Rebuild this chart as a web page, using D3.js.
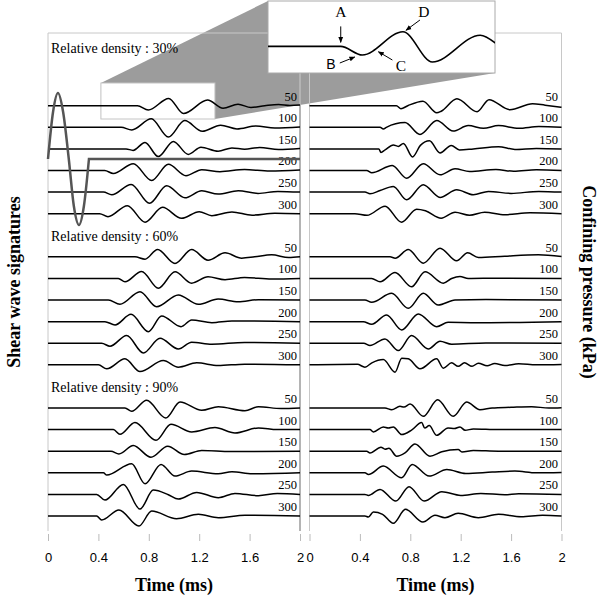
<!DOCTYPE html>
<html>
<head>
<meta charset="utf-8">
<script src="https://d3js.org/d3.v7.min.js"></script>
<style>
  body { margin: 0; background: #fff; }
</style>
</head>
<body>
<div id="chart"></div>
<script>
var pressures = [50, 100, 150, 200, 250, 300];
var densities = ["30%", "60%", "90%"];
var timeTicks = [0, 0.4, 0.8, 1.2, 1.6, 2];

// each trace: [time (ms), relative amplitude], one trace per confining pressure
var left30 = [
  [[0,0],[0.71,0],[0.796,-4.3],[0.958,7.3],[1.075,-7.8],[1.266,5.6],[1.389,-2.5],[1.508,1.5],[1.611,-1.8],[1.72,0],[1.83,1.3],[1.92,0.3],[2,0.7]],
  [[0,0],[0.58,0],[0.665,-2.6],[0.82,8.5],[0.955,-9.8],[1.085,6.7],[1.225,-4],[1.37,2.1],[1.5,-1.6],[1.65,1.3],[1.8,-0.7],[2,0.3]],
  [[0,0],[0.62,0],[0.675,-1.5],[0.77,6.5],[0.875,-7.7],[0.995,7.5],[1.113,-5.5],[1.214,1.7],[1.35,-2.3],[1.46,1],[1.56,-0.3],[1.68,1.5],[1.83,-0.7],[2,0.3]],
  [[0,0],[0.45,0],[0.518,-3],[0.677,6.8],[0.823,-10],[0.955,6.2],[1.095,-5.2],[1.22,0.8],[1.365,-1.2],[1.56,1],[1.76,-0.6],[2,0.5]],
  [[0,0],[0.44,0],[0.506,-2.7],[0.66,7.6],[0.806,-11.2],[0.942,6.3],[1.087,-5.7],[1.22,1.3],[1.35,-2],[1.51,1.3],[1.667,-1.3],[1.825,0.7],[2,0]],
  [[0,0],[0.41,0],[0.476,-3],[0.63,8],[0.77,-8.5],[0.909,6.3],[1.06,-4.7],[1.2,2],[1.3,-2],[1.46,1.7],[1.62,-1.5],[1.8,0.5],[2,0]]
];
var left60 = [
  [[0,0],[0.69,0],[0.77,-2.3],[0.87,7.3],[1.008,-6.7],[1.14,7.3],[1.27,-3.3],[1.405,4],[1.537,-1.3],[1.64,0],[1.775,2],[1.91,-0.7],[2,0]],
  [[0,0],[0.558,0],[0.611,-3.3],[0.743,7],[0.876,-9.7],[1.008,6.7],[1.14,-4.7],[1.27,1.7],[1.405,-1.3],[1.56,1],[1.775,-0.6],[2,0]],
  [[0,0],[0.479,0],[0.571,-4.3],[0.73,8.3],[0.862,-6.7],[1.034,5],[1.193,-4.3],[1.35,1],[1.51,-1.7],[1.67,0.3],[2,0]],
  [[0,0],[0.452,0],[0.532,-3.3],[0.659,7.3],[0.796,-10],[0.902,5.7],[1.056,-5],[1.14,1.7],[1.3,-1],[1.46,0.7],[2,0]],
  [[0,0],[0.426,0],[0.492,-3],[0.624,7.7],[0.757,-9.7],[0.889,5],[1.034,-5.7],[1.14,1],[1.3,-1],[1.56,0.8],[2,0]],
  [[0,0],[0.4,0],[0.466,-4],[0.611,6],[0.73,-6.7],[0.915,4.3],[1.034,-2.3],[1.18,2],[1.35,-0.7],[1.56,0.7],[2,0]]
];
var left90 = [
  [[0,0],[0.611,0],[0.664,-3.3],[0.783,7.7],[0.934,-10],[1.048,6],[1.22,-2.3],[1.352,1.3],[1.563,-2.7],[1.67,1.3],[1.85,-0.5],[2,0]],
  [[0,0],[0.519,0],[0.571,-4.7],[0.69,7],[0.857,-10.7],[0.976,5.3],[1.14,-2.3],[1.325,2],[1.484,-3.3],[1.67,1.7],[1.82,0],[2,0]],
  [[0,0],[0.5,0],[0.563,-2.7],[0.677,5.7],[0.817,-6],[0.95,5],[1.082,-3.3],[1.22,0.7],[1.45,-0.3],[2,0]],
  [[0,0],[0.44,0],[0.466,-2.3],[0.664,9],[0.77,-11],[0.897,8.3],[1.008,-3.3],[1.14,1.7],[1.35,-1],[1.46,1],[1.62,-1],[2,0]],
  [[0,0],[0.386,0],[0.452,-5.7],[0.598,10],[0.73,-14.7],[0.836,4.3],[0.955,-0.3],[1.034,-4.7],[1.18,2],[1.352,-3.3],[1.484,1],[1.67,-1.3],[1.82,1],[2,0]],
  [[0,0],[0.386,0],[0.426,-4],[0.563,6],[0.722,-10],[0.823,5],[1.02,-2.7],[1.193,1.7],[1.352,-1.7],[1.563,0.7],[2,0]]
];
var right30 = [
  [[0,0],[0.69,0],[0.726,-3],[0.78,0],[0.9,4.5],[1.01,-7],[1.045,-5.5],[1.17,7],[1.33,-6],[1.425,6],[1.59,-4],[1.77,2],[1.87,0.5],[2,-1.5]],
  [[0,0],[0.56,0],[0.586,-1.7],[0.61,0],[0.758,4.7],[0.877,-7.2],[1.01,6.8],[1.14,-3.8],[1.26,1.7],[1.38,-1],[1.5,1.7],[1.66,-1],[1.82,0.7],[2,0]],
  [[0,0],[0.55,0],[0.567,-3.5],[0.6,-1],[0.665,4],[0.705,2.5],[0.745,5.5],[0.818,-8],[0.88,3.5],[0.952,8.2],[1.036,-4],[1.125,3.5],[1.19,-1],[1.3,0],[1.5,2.2],[1.63,-0.5],[1.8,0.5],[2,0]],
  [[0,0],[0.454,0],[0.494,-2.3],[0.657,5],[0.771,-7.7],[0.903,6.7],[1.036,-4.3],[1.155,1.7],[1.27,-1],[1.48,1],[1.62,-0.8],[1.8,0.7],[2,0]],
  [[0,0],[0.44,0],[0.48,-1.7],[0.56,1.5],[0.665,5.7],[0.771,-7.7],[0.903,7.3],[1.036,-5.3],[1.168,2.3],[1.3,-2.7],[1.42,0.7],[1.6,-1.3],[1.82,0.7],[2,0]],
  [[0,0],[0.36,0],[0.456,-1.7],[0.6,7.5],[0.73,-8.5],[0.85,4.5],[0.92,3],[1.045,-4.5],[1.155,1.5],[1.27,-1.5],[1.39,1.5],[1.55,-1],[1.75,1],[2,0]]
];
var right60 = [
  [[0,0],[0.639,0],[0.68,-1.3],[0.784,7.3],[0.903,-6.3],[1.036,8.7],[1.168,-4],[1.255,4],[1.34,-0.7],[1.55,0.7],[1.816,2],[2,0.3]],
  [[0,0],[0.493,0],[0.56,-3.3],[0.679,6],[0.81,-8.3],[0.917,6.7],[1.062,-4.7],[1.128,0],[1.194,2],[1.26,0],[1.5,0.3],[2,0]],
  [[0,0],[0.44,0],[0.493,-2.3],[0.652,6.7],[0.784,-8.3],[0.903,6.7],[1.022,-5],[1.155,0],[1.4,0.5],[2,0]],
  [[0,0],[0.427,0],[0.493,-2.7],[0.612,6.7],[0.731,-8.3],[0.864,7.7],[1.009,-5],[1.1,-0.7],[1.3,-1],[2,0]],
  [[0,0],[0.43,0],[0.48,-2.3],[0.599,4.3],[0.705,-7.3],[0.81,7.7],[0.943,-5.7],[1.036,2],[1.128,-1],[1.4,0.3],[2,0]],
  [[0,0],[0.38,0.5],[0.44,-2.3],[0.495,2],[0.586,5.3],[0.679,-7.3],[0.732,6.7],[0.784,6],[0.877,-4],[1.009,6],[1.062,-3.3],[1.128,2],[1.18,-1.5],[1.23,2],[1.29,-1.5],[1.34,1.7],[1.41,-1],[1.47,1.3],[1.55,-0.7],[1.66,1],[1.8,0],[2,0.3]]
];
var right90 = [
  [[0,0],[0.599,0],[0.652,-1.7],[0.718,1.7],[0.75,1],[0.798,4],[0.903,-8.3],[1.017,8.3],[1.141,-8.3],[1.247,6],[1.353,-1.7],[1.45,0],[1.6,0.7],[1.763,1.3],[1.9,0],[2,0.3]],
  [[0,0],[0.48,0],[0.507,-2.3],[0.586,2.7],[0.625,1.7],[0.665,2.7],[0.732,-5],[0.81,-0.5],[0.89,7],[0.915,1.5],[0.95,4],[1.009,-5.7],[1.1,1.7],[1.15,1],[1.194,2.7],[1.235,-0.7],[1.3,0.7],[1.5,0],[2,0]],
  [[0,0],[0.454,0],[0.48,-1.7],[0.567,4],[0.6,2],[0.63,3],[0.692,-5],[0.758,-1.7],[0.837,7.3],[0.956,-5],[1.05,-0.5],[1.18,1.7],[1.21,-0.7],[1.3,0.7],[1.5,0],[2,0]],
  [[0,0],[0.44,0],[0.467,-1.7],[0.586,6.7],[0.731,-5],[0.815,8.3],[0.95,-3.3],[1.09,3.3],[1.24,-0.7],[1.45,0.7],[1.63,1.7],[1.8,0],[2,0.3]],
  [[0,0],[0.44,0],[0.467,-1],[0.56,5],[0.685,-6.7],[0.79,7.7],[0.91,-6.7],[1.05,2.7],[1.2,-1],[1.36,1],[1.55,-0.3],[1.66,0.7],[2,0]],
  [[0,0],[0.44,0],[0.467,-1],[0.507,4],[0.58,1.7],[0.665,-7.3],[0.762,6.7],[0.9,-6],[0.996,0.7],[1.075,-1.7],[1.18,2.7],[1.34,-1.7],[1.5,1.7],[1.68,-0.7],[1.85,0.7],[2,0]]
];

// input pulse drawn over the 30% panel
var pulseT = [0, 0.04, 0.079, 0.12, 0.165, 0.205, 0.246, 0.285, 0.325];
var pulseA = [0, 47, 66, 47, 0, -47, -66, -47, 0];

// zoomed part of the 30% / 50 kPa trace
var zoomT = [0.42, 1.325];
var zoomA = [-13.3, 22.7];
var notes = [
  {label: "A", t: 0.71, a: 0},
  {label: "B", t: 0.79, a: -4.3},
  {label: "C", t: 0.86, a: -1.5},
  {label: "D", t: 0.958, a: 7.3}
];

var serif = "'Liberation Serif', 'Times New Roman', serif";
var sans = "'Liberation Sans', Arial, sans-serif";

var width = 600, height = 597;
var svg = d3.select("#chart").append("svg")
  .attr("width", width)
  .attr("height", height);

svg.append("defs").append("marker")
  .attr("id", "head")
  .attr("viewBox", "0 0 10 10")
  .attr("refX", 9).attr("refY", 5)
  .attr("markerWidth", 6).attr("markerHeight", 6)
  .attr("orient", "auto-start-reverse")
  .append("path")
  .attr("d", "M0,1L10,5L0,9z")
  .attr("fill", "#000");

var xLeft = d3.scaleLinear().domain([0, 2]).range([48, 300]);
var xRight = d3.scaleLinear().domain([0, 2]).range([309.5, 561.5]);
var slotY = d3.scaleLinear().domain([0, 19]).range([105.7, 516]);
var amp = d3.scaleLinear().domain([0, 10]).range([0, -10]);

var panels = [
  {x: xLeft, groups: [left30, left60, left90], labelX: 297},
  {x: xRight, groups: [right30, right60, right90], labelX: 558}
];

// zoom geometry
var small = {
  x0: xLeft(zoomT[0]), x1: xLeft(zoomT[1]),
  y0: slotY(0) + amp(zoomA[1]), y1: slotY(0) + amp(zoomA[0])
};
var big = {x0: 268, x1: 495, y0: 1, y1: 73};
var xInset = d3.scaleLinear().domain(zoomT).range([big.x0, big.x1]);
var yInset = d3.scaleLinear().domain(zoomA).range([big.y1, big.y0]);

// grey projection between small box and inset
svg.append("polygon")
  .attr("points", [[small.x0, small.y0], [big.x0, big.y0], [big.x1, big.y0],
    [big.x1, big.y1], [small.x1, small.y1], [small.x0, small.y1]].join(" "))
  .attr("fill", "#9c9c9c");

// panel frames
panels.forEach(function(p, i) {
  var x0 = p.x.range()[0], x1 = p.x.range()[1];
  svg.append("path")
    .attr("d", "M" + x0 + ",531V33H" + x1 + "V531")
    .attr("fill", "none")
    .attr("stroke", "#c8c8c8")
    .attr("stroke-width", 1);
});
svg.append("line")
  .attr("x1", 300).attr("x2", 300).attr("y1", 33).attr("y2", 531)
  .attr("stroke", "#b4b4b4").attr("stroke-width", 2);

svg.append("rect")
  .attr("x", small.x0).attr("y", small.y0)
  .attr("width", small.x1 - small.x0).attr("height", small.y1 - small.y0)
  .attr("fill", "#fff")
  .attr("stroke", "#c4c4c4");

// axes
panels.forEach(function(p) {
  var ax = svg.append("g")
    .attr("transform", "translate(0,534)")
    .call(d3.axisBottom(p.x).tickValues(timeTicks).tickFormat(d3.format("")).tickSize(7).tickPadding(12));
  ax.select(".domain").remove();
  ax.selectAll(".tick line").attr("stroke", "#bbb");
  ax.selectAll(".tick text")
    .attr("font-family", sans)
    .attr("font-size", 13)
    .attr("fill", "#000");

  svg.append("text")
    .attr("x", (p.x.range()[0] + p.x.range()[1]) / 2)
    .attr("y", 591)
    .attr("text-anchor", "middle")
    .attr("font-family", serif)
    .attr("font-weight", "bold")
    .attr("font-size", 18)
    .text("Time (ms)");
});

// group titles
densities.forEach(function(d, g) {
  svg.append("text")
    .attr("x", 51)
    .attr("y", g === 0 ? 53 : slotY(g * 7) - 16)
    .attr("font-family", serif)
    .attr("font-size", 14)
    .text("Relative density : " + d);
});

// traces
panels.forEach(function(p) {
  p.groups.forEach(function(group, g) {
    group.forEach(function(trace, k) {
      var base = slotY(g * 7 + k);
      var line = d3.line()
        .x(function(d) { return p.x(d[0]); })
        .y(function(d) { return base + amp(d[1]); })
        .curve(d3.curveMonotoneX);
      svg.append("path")
        .datum(trace)
        .attr("d", line)
        .attr("fill", "none")
        .attr("stroke", "#000")
        .attr("stroke-width", 1.5);
      svg.append("text")
        .attr("x", p.labelX)
        .attr("y", base - 5)
        .attr("text-anchor", "end")
        .attr("font-family", serif)
        .attr("font-size", 12.5)
        .text(pressures[k]);
    });
  });
});

// input pulse
var pulseBase = 159;
var pulse = pulseT.map(function(t, i) { return [t, pulseA[i]]; });
var pulseLine = d3.line()
  .x(function(d) { return xLeft(d[0]); })
  .y(function(d) { return pulseBase + amp(d[1]); })
  .curve(d3.curveMonotoneX);
svg.append("path")
  .attr("d", pulseLine(pulse) + "L" + xLeft(2) + "," + pulseBase)
  .attr("fill", "none")
  .attr("stroke", "#555")
  .attr("stroke-width", 2.5);

// inset
svg.append("clipPath").attr("id", "insetClip")
  .append("rect")
  .attr("x", big.x0).attr("y", big.y0)
  .attr("width", big.x1 - big.x0).attr("height", big.y1 - big.y0);

svg.append("rect")
  .attr("x", big.x0).attr("y", big.y0)
  .attr("width", big.x1 - big.x0).attr("height", big.y1 - big.y0)
  .attr("fill", "#fff")
  .attr("stroke", "#aaa");

var insetLine = d3.line()
  .x(function(d) { return xInset(d[0]); })
  .y(function(d) { return yInset(d[1]); })
  .curve(d3.curveMonotoneX);
svg.append("path")
  .datum(left30[0])
  .attr("clip-path", "url(#insetClip)")
  .attr("d", insetLine)
  .attr("fill", "none")
  .attr("stroke", "#000")
  .attr("stroke-width", 1.6);

// arrow start, arrow end and label offsets from each marked point
var noteLayout = {
  A: {sx: 0, sy: -20, ex: 0, ey: -4, lx: 0, ly: -29, font: serif, size: 15.5},
  B: {sx: -21, sy: 8, ex: -6, ey: 2, lx: -30, ly: 14.3, font: sans, size: 14},
  C: {sx: 14, sy: 10.6, ex: 0, ey: 2.3, lx: 22.6, ly: 21.3, font: serif, size: 15.5},
  D: {sx: 17, sy: -11.8, ex: 3, ey: -1.5, lx: 21, ly: -15, font: serif, size: 15.5}
};
notes.forEach(function(n) {
  var px = xInset(n.t), py = yInset(n.a), o = noteLayout[n.label];
  svg.append("line")
    .attr("x1", px + o.sx).attr("y1", py + o.sy)
    .attr("x2", px + o.ex).attr("y2", py + o.ey)
    .attr("stroke", "#000")
    .attr("stroke-width", 1)
    .attr("marker-end", "url(#head)");
  svg.append("text")
    .attr("x", px + o.lx)
    .attr("y", py + o.ly)
    .attr("text-anchor", "middle")
    .attr("font-family", o.font)
    .attr("font-size", o.size)
    .text(n.label);
});

// axis titles
svg.append("text")
  .attr("transform", "translate(20,282) rotate(-90)")
  .attr("text-anchor", "middle")
  .attr("font-family", serif)
  .attr("font-weight", "bold")
  .attr("font-size", 18)
  .text("Shear wave signatures");

svg.append("text")
  .attr("transform", "translate(583,282) rotate(90)")
  .attr("text-anchor", "middle")
  .attr("font-family", serif)
  .attr("font-weight", "bold")
  .attr("font-size", 18)
  .text("Confining pressure (kPa)");
</script>
</body>
</html>
